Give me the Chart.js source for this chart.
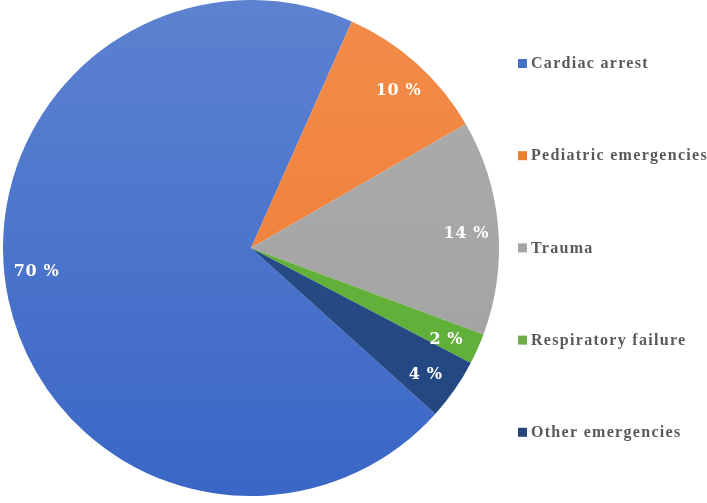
<!DOCTYPE html>
<html>
<head>
<meta charset="utf-8">
<script src="https://cdn.jsdelivr.net/npm/chart.js@4"></script>
<style>
  html, body { margin: 0; padding: 0; background: #fff; }
  #wrap { width: 707px; height: 503px; position: relative; }
</style>
</head>
<body>
<div id="wrap"><canvas id="pieChart"></canvas></div>
<script>
// Data
const categories = ['Cardiac arrest', 'Pediatric emergencies', 'Trauma', 'Respiratory failure', 'Other emergencies'];
const shares = [70, 10, 14, 2, 4];
const topColors = ['#5c82d0', '#f28c4a', '#adadad', '#6ab43e', '#2a4f8c'];
const bottomColors = ['#3a66c6', '#ee7a2e', '#a0a0a0', '#5cae38', '#22467e'];
const legendColors = ['#4472c4', '#ed7d31', '#a5a5a5', '#70ad47', '#264478'];

// Gradient fill per slice
function sliceFill(context) {
  const chart = context.chart;
  const area = chart.chartArea;
  if (!area) return legendColors[context.dataIndex];
  const g = chart.ctx.createLinearGradient(0, area.top, 0, area.bottom);
  g.addColorStop(0, topColors[context.dataIndex]);
  g.addColorStop(1, bottomColors[context.dataIndex]);
  return g;
}

// Percent labels inside slices
const sliceLabels = {
  id: 'sliceLabels',
  afterDatasetsDraw(chart) {
    const ctx = chart.ctx;
    const meta = chart.getDatasetMeta(0);
    ctx.save();
    ctx.font = 'bold 16px "DejaVu Serif", serif';
    ctx.letterSpacing = '0.6px';
    ctx.fillStyle = '#ffffff';
    ctx.textAlign = 'center';
    ctx.textBaseline = 'middle';
    meta.data.forEach((arc, i) => {
      const p = arc.getProps(['x', 'y', 'startAngle', 'endAngle', 'outerRadius'], true);
      // big slice: label a bit nearer the horizontal, like the original
      const mid = (p.startAngle + p.endAngle) / 2 + (i === 0 ? 0.1 : 0.02);
      const r = p.outerRadius * 0.87;
      ctx.fillText(shares[i] + ' %', p.x + Math.cos(mid) * r, p.y + Math.sin(mid) * r);
    });
    ctx.restore();
  }
};

// Legend on the right, evenly spread
const sideLegend = {
  id: 'sideLegend',
  afterDraw(chart) {
    const ctx = chart.ctx;
    ctx.save();
    ctx.font = 'bold 16px "Liberation Serif"';
    ctx.letterSpacing = '1.3px';
    ctx.textBaseline = 'middle';
    categories.forEach((name, i) => {
      const y = 63 + i * 92.2;
      ctx.fillStyle = legendColors[i];
      ctx.fillRect(518, y - 4, 9, 9);
      ctx.fillStyle = '#595959';
      ctx.fillText(name, 531, y + 1);
    });
    ctx.restore();
  }
};

new Chart(document.getElementById('pieChart'), {
  type: 'pie',
  data: {
    labels: categories,
    datasets: [{
      data: shares,
      backgroundColor: sliceFill,
      borderWidth: 0
    }]
  },
  options: {
    responsive: true,
    maintainAspectRatio: false,
    animation: false,
    rotation: 132,
    layout: {
      padding: { left: 3, right: 208, top: 0, bottom: 7 }
    },
    plugins: {
      legend: { display: false },
      tooltip: { enabled: false }
    }
  },
  plugins: [sliceLabels, sideLegend]
});
</script>
</body>
</html>
